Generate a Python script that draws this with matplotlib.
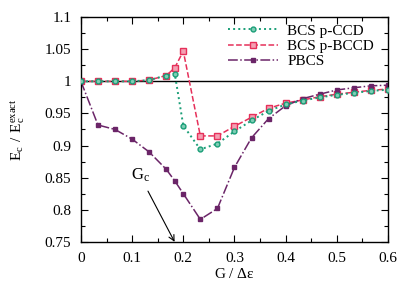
import numpy as np
import matplotlib
matplotlib.use("Agg")
import matplotlib.pyplot as plt
from matplotlib.ticker import MultipleLocator

plt.rcParams['font.family'] = ['Liberation Serif', 'DejaVu Serif']
plt.rcParams['mathtext.fontset'] = 'custom'
plt.rcParams['mathtext.rm'] = 'Liberation Serif'

# G / delta eps grid
g = [0.0, 0.0333, 0.0667, 0.1, 0.1333, 0.1667, 0.1833, 0.2, 0.2333, 0.2667,
     0.3, 0.3333, 0.3667, 0.4, 0.4333, 0.4667, 0.5, 0.5333, 0.5667, 0.6]

ccd = [1.0, 1.0, 1.0, 1.0, 1.002, 1.009, 1.012, 0.931, 0.894, 0.903,
       0.922, 0.939, 0.954, 0.964, 0.970, 0.975, 0.979, 0.982, 0.985, 0.987]
bccd = [1.0, 1.0, 1.0, 1.0, 1.002, 1.009, 1.021, 1.047, 0.915, 0.915,
        0.930, 0.944, 0.958, 0.966, 0.971, 0.976, 0.980, 0.983, 0.986, 0.988]
pbcs = [1.0, 0.932, 0.925, 0.910, 0.890, 0.863, 0.845, 0.825, 0.785, 0.802,
        0.866, 0.912, 0.942, 0.962, 0.973, 0.980, 0.9865, 0.990, 0.993, 0.994]

xticks = [0, 0.1, 0.2, 0.3, 0.4, 0.5, 0.6]
xtick_labels = ['0', '0.1', '0.2', '0.3', '0.4', '0.5', '0.6']
yticks = [0.75, 0.8, 0.85, 0.9, 0.95, 1.0, 1.05, 1.1]
ytick_labels = ['0.75', '0.8', '0.85', '0.9', '0.95', '1', '1.05', '1.1']

g_c = 0.183

fig = plt.figure(figsize=(4.15, 2.9), dpi=100)
ax = fig.add_axes([0.195, 0.166, 0.74, 0.775])

green = '#1a9e77'
red = '#e6305a'
purple = '#6b2568'

ax.axhline(1.0, color='black', lw=1.0, zorder=1)
ax.plot(g, ccd, ls=':', lw=1.4, color=green, marker='o', ms=3.5,
        mfc='#7fcdb5', mec=green, mew=1.0, label='BCS p-CCD', zorder=3)
ax.plot(g, bccd, ls='--', lw=1.1, color=red, marker='s', ms=4,
        mfc='#f3a0b3', mec=red, mew=1.0, label='BCS p-BCCD', zorder=2)
ax.plot(g, pbcs, ls='-.', lw=1.1, color=purple, marker='s', ms=3.5,
        mfc=purple, mec=purple, label='PBCS', zorder=2)

ax.text(0.117, 0.853, r'$\mathregular{G_c}$', fontsize=12, ha='center',
        va='center')
ax.annotate('', xy=(g_c, 0.75), xytext=(0.131, 0.829),
            arrowprops=dict(arrowstyle='->', color='black', lw=0.8,
                            shrinkA=0, shrinkB=0))

ax.set_xlim(0, 0.6)
ax.set_ylim(0.75, 1.1)
ax.set_xticks(xticks)
ax.set_xticklabels(xtick_labels)
ax.set_yticks(yticks)
ax.set_yticklabels(ytick_labels)
ax.xaxis.set_minor_locator(MultipleLocator(0.05))
ax.yaxis.set_minor_locator(MultipleLocator(0.025))
ax.tick_params(which='both', direction='in', top=True, right=True,
               labelsize=11, pad=7)
ax.tick_params(which='major', length=5, width=0.8)
ax.tick_params(which='minor', length=3, width=0.8)
for s in ax.spines.values():
    s.set_linewidth(1.0)

ax.set_xlabel(r'G / $\mathregular{\Delta\varepsilon}$', fontsize=11, labelpad=2)
ax.set_ylabel(r'$\mathregular{E_c\ /\ E_c^{exact}}$', fontsize=11, labelpad=13)

ax.legend(loc='upper right', bbox_to_anchor=(0.977, 1.0), frameon=False,
          fontsize=11, handlelength=3.3, handletextpad=0.6,
          labelspacing=0.1, borderaxespad=0.05)

fig.savefig('out.png', dpi=100)
